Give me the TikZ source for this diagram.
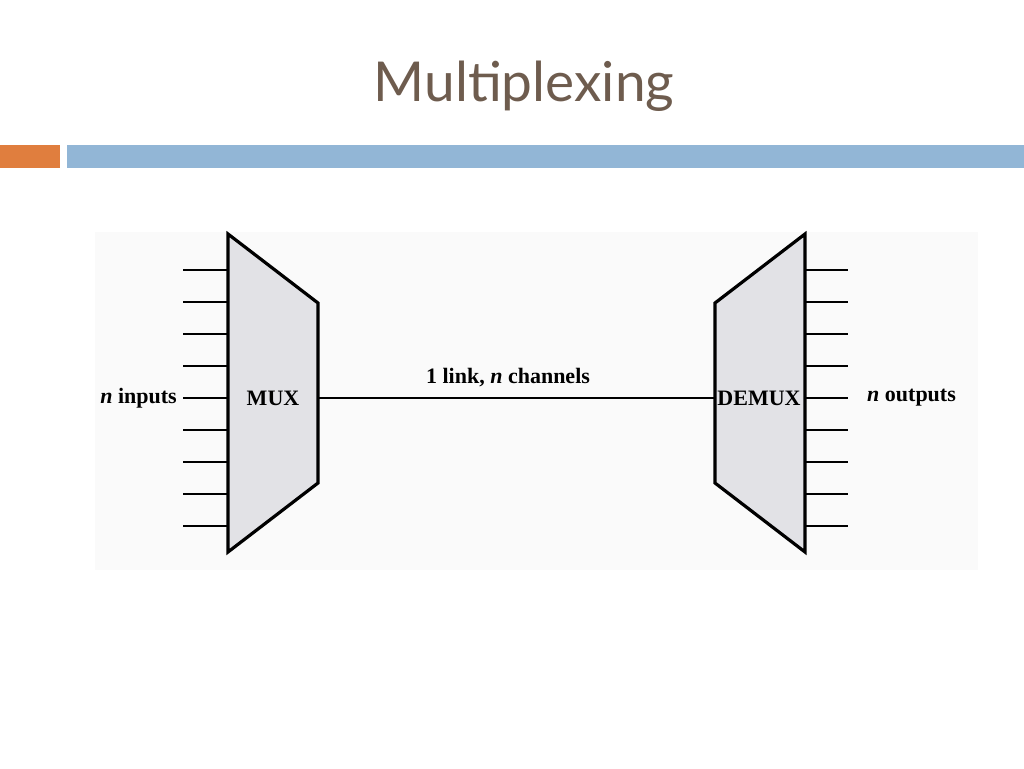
\documentclass[tikz,border=0pt]{standalone}
\usepackage{fontspec}
\setmainfont{Liberation Serif}
\newfontfamily\titlefont{Lato}
\definecolor{titlec}{RGB}{110,92,78}
\definecolor{orangebar}{RGB}{224,126,62}
\definecolor{bluebar}{RGB}{146,182,214}
\definecolor{boxfill}{RGB}{226,226,230}
\definecolor{panel}{RGB}{250,250,250}
\begin{document}
\begin{tikzpicture}[x=1pt,y=-1pt,
  wire/.style={line width=2.6pt},
  unit/.style={line width=3.2pt,fill=boxfill,line join=miter},
  lbl/.style={font=\bfseries\fontsize{22}{26}\selectfont,inner sep=1pt}]
\useasboundingbox (0,0) rectangle (1024,768);
\node[font=\titlefont\fontsize{55}{62}\selectfont,text=titlec] (title) at (524,86) {Multiplexing};
\fill[orangebar] (0,145) rectangle (60,168);
\fill[bluebar] (67,145) rectangle (1024,168);
\fill[panel] (95,232) rectangle (978,570);
\draw[unit] (228,234) -- (318,303) -- (318,483) -- (228,552) -- cycle;
\draw[unit] (805,234) -- (715,303) -- (715,483) -- (805,552) -- cycle;
\node[lbl] (mux) at (273,398) {MUX};
\node[lbl] (demux) at (759,398) {DEMUX};
\foreach \y in {270,302,334,366,398,430,462,494,526}{
  \draw[wire] (183,\y) -- (228,\y);
  \draw[wire] (805,\y) -- (848,\y);
}
\coordinate (ml) at (318,398);
\coordinate (dl) at (715,398);
\draw[wire] (ml) -- (dl);
\node[lbl] (link) at (508,378) {1 link, \textit{n} channels};
\node[lbl,anchor=east] (inp) at (178,398) {\textit{n} inputs};
\node[lbl,anchor=west] (outp) at (866,398) {\textit{n} outputs};
\end{tikzpicture}
\end{document}
